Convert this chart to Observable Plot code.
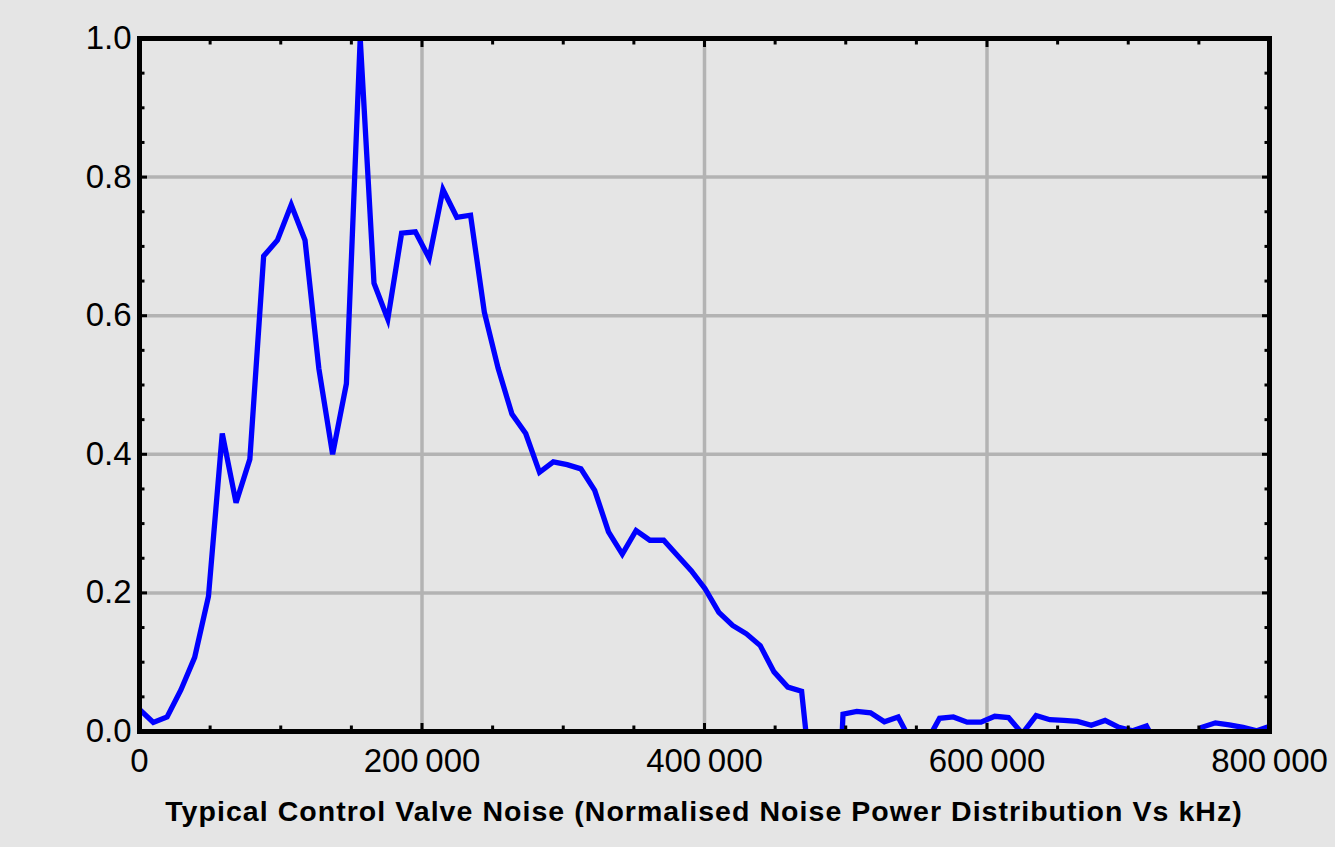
<!DOCTYPE html>
<html>
<head>
<meta charset="utf-8">
<script src="https://cdn.jsdelivr.net/npm/d3@7"></script>
<script src="https://cdn.jsdelivr.net/npm/@observablehq/plot@0.6"></script>
<style>
html, body { margin: 0; padding: 0; background: #e5e5e5; }
#wrap { position: relative; width: 1335px; height: 847px; overflow: hidden; background: #e5e5e5; }
#chart svg { display: block; }
#title { position: absolute; left: 139px; width: 1130px; top: 797px; text-align: center;
  font: bold 28.5px "Liberation Sans", Arial, sans-serif; letter-spacing: 1.05px; line-height: 1; color: #000; white-space: nowrap; }
</style>
</head>
<body>
<div id="wrap"><div id="chart"></div><div id="title"></div></div>
<script>
const titleText = "Typical Control Valve Noise (Normalised Noise Power Distribution Vs kHz)";

const frequency = [
  0, 9766, 19531, 29297, 39063, 48828, 58594, 68359, 78125, 87891,
  97656, 107422, 117188, 126953, 136719, 146484, 156250, 166016, 175781, 185547,
  195313, 205078, 214844, 224609, 234375, 244141, 253906, 263672, 273438, 283203,
  292969, 302734, 312500, 322266, 332031, 341797, 351563, 361328, 371094, 380859,
  390625, 400391, 410156, 419922, 429688, 439453, 449219, 458984, 468750, 478516,
  488281, 498047, 507813, 517578, 527344, 537109, 546875, 556641, 566406, 576172,
  585938, 595703, 605469, 615234, 625000, 634766, 644531, 654297, 664063, 673828,
  683594, 693359, 703125, 712891, 722656, 732422, 742188, 751953, 761719, 771484,
  781250, 791016, 800781
];

const power = [
  0.032, 0.013, 0.021, 0.060, 0.107, 0.195, 0.430, 0.330, 0.393, 0.686,
  0.709, 0.760, 0.709, 0.524, 0.400, 0.502, 1.000, 0.647, 0.595, 0.719,
  0.721, 0.683, 0.782, 0.742, 0.745, 0.605, 0.524, 0.458, 0.430, 0.374,
  0.389, 0.385, 0.379, 0.348, 0.288, 0.256, 0.290, 0.276, 0.276, 0.254,
  0.232, 0.206, 0.172, 0.153, 0.141, 0.124, 0.086, 0.064, 0.058, -0.130,
  -0.450, 0.025, 0.029, 0.027, 0.014, 0.021, -0.017, -0.017, 0.019, 0.021,
  0.0135, 0.0135, 0.022, 0.020, -0.003, 0.023, 0.017, 0.016, 0.0145, 0.009,
  0.016, 0.006, 0.001, 0.008, -0.030, -0.030, -0.030, 0.006, 0.0125, 0.0096,
  0.006, 0.001, 0.008
];

const xTicks = [0, 200000, 400000, 600000, 800000];
const xMinorTicks = [50000, 100000, 150000, 250000, 300000, 350000, 450000, 500000, 550000, 650000, 700000, 750000];
const yTicks = [0, 0.2, 0.4, 0.6, 0.8, 1.0];
const yMinorTicks = [0.05, 0.1, 0.15, 0.25, 0.3, 0.35, 0.45, 0.5, 0.55, 0.65, 0.7, 0.75, 0.85, 0.9, 0.95];

const data = frequency.map((f, i) => ({f, p: power[i]}));
const fmtX = d => d3.format(",")(d).replace(/,/g, "\u2009");
const fmtY = d3.format(".1f");
const blank = () => "";

const tickStyle = {stroke: "black", strokeWidth: 3, label: null};

const chart = Plot.plot({
  width: 1335,
  height: 785,
  marginLeft: 139,
  marginRight: 66,
  marginTop: 38,
  marginBottom: 54,
  style: {background: "#e5e5e5", fontFamily: "Liberation Sans, Arial, sans-serif", fontSize: "33px", color: "black", overflow: "visible"},
  x: {domain: [0, 800000], label: null},
  y: {domain: [0, 1], label: null},
  marks: [
    Plot.gridX({ticks: xTicks, stroke: "#b3b3b3", strokeOpacity: 1, strokeWidth: 3.5}),
    Plot.gridY({ticks: yTicks, stroke: "#b3b3b3", strokeOpacity: 1, strokeWidth: 3.5}),
    Plot.line(data, {x: "f", y: "p", stroke: "#0000ff", strokeWidth: 5.3, strokeLinejoin: "miter", strokeMiterlimit: 4, clip: true}),
    Plot.frame({stroke: "black", strokeWidth: 5}),
    // labels
    Plot.axisX({anchor: "bottom", ticks: xTicks, tickSize: 0, tickPadding: 17, tickFormat: fmtX, label: null, fill: "black"}),
    Plot.axisY({anchor: "left", ticks: yTicks, tickSize: 0, tickPadding: 8, tickFormat: fmtY, label: null, fill: "black"}),
    // inward ticks
    Plot.axisX({anchor: "bottom", ticks: xTicks, tickSize: -8, tickFormat: blank, ...tickStyle}),
    Plot.axisX({anchor: "bottom", ticks: xMinorTicks, tickSize: -5.5, tickFormat: blank, ...tickStyle}),
    Plot.axisX({anchor: "top", ticks: xTicks, tickSize: -8, tickFormat: blank, ...tickStyle}),
    Plot.axisX({anchor: "top", ticks: xMinorTicks, tickSize: -5.5, tickFormat: blank, ...tickStyle}),
    Plot.axisY({anchor: "left", ticks: yTicks, tickSize: -8, tickFormat: blank, ...tickStyle}),
    Plot.axisY({anchor: "left", ticks: yMinorTicks, tickSize: -5.5, tickFormat: blank, ...tickStyle}),
    Plot.axisY({anchor: "right", ticks: yTicks, tickSize: -8, tickFormat: blank, ...tickStyle}),
    Plot.axisY({anchor: "right", ticks: yMinorTicks, tickSize: -5.5, tickFormat: blank, ...tickStyle})
  ]
});
document.getElementById("chart").appendChild(chart);
document.getElementById("title").textContent = titleText;
</script>
</body>
</html>
